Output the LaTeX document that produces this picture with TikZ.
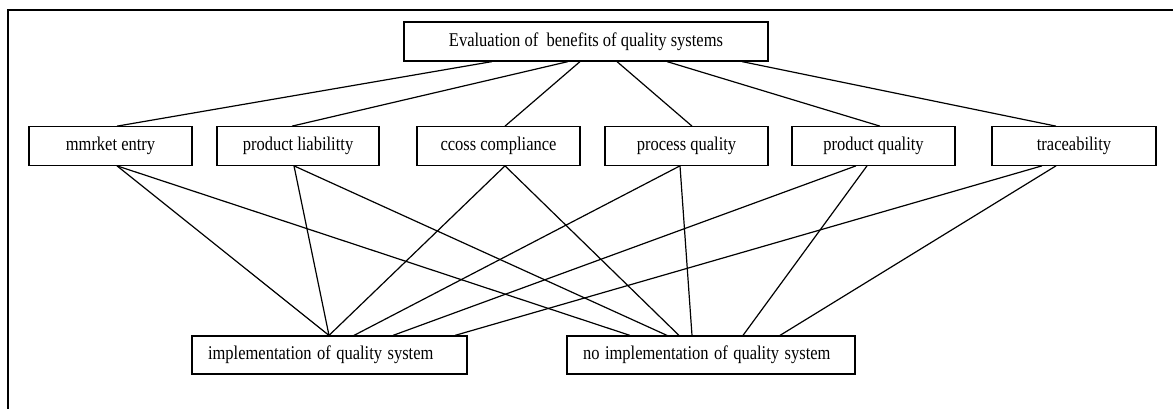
\documentclass[tikz,border=0pt]{standalone}
\usepackage{graphicx}
\usepackage{fontspec}
\setmainfont{Liberation Serif}
\usetikzlibrary{calc}
\newcommand{\stretchtxt}[1]{\scalebox{1}[1.18]{#1}}
\begin{document}
\begin{tikzpicture}[x=1pt,y=-1pt,
  box/.style={draw,line width=1.2pt,rectangle,inner sep=0pt,minimum height=38.5pt,font=\fontsize{16.5}{19}\selectfont},
  midbox/.style={box,minimum width=163pt},
  link/.style={line width=1.2pt}]
\useasboundingbox (0,0) rectangle (1173,409);
\clip (0,0) rectangle (1173,409);
\fill[white] (0,0) rectangle (1173,409);
\draw[line width=1.5pt] (8,10) rectangle (1190,430);
\node[box,minimum width=364pt,minimum height=39pt] (top) at (586,41.5) {\stretchtxt{Evaluation of~ benefits of quality systems}};
\node[midbox] (m1) at (110.5,146) {\stretchtxt{mmrket entry}};
\node[midbox,minimum width=162pt] (m2) at (298,146) {\stretchtxt{product liabilitty}};
\node[midbox] (m3) at (498.5,146) {\stretchtxt{ccoss compliance}};
\node[midbox] (m4) at (686.5,146) {\stretchtxt{process quality}};
\node[midbox] (m5) at (873.5,146) {\stretchtxt{product quality}};
\node[midbox,minimum width=164pt] (m6) at (1074,146) {\stretchtxt{traceability}};
\node[box,minimum width=275pt,minimum height=38pt,text width=243pt,align=left] (b1) at (329.5,355) {\stretchtxt{implementation of quality system}};
\node[box,minimum width=288pt,minimum height=38pt,text width=256pt,align=left] (b2) at (711,355) {\stretchtxt{no implementation of quality system}};
% top to middle
\draw[link] ($(top.south)+(-94,0)$) -- ($(m1.north)+(6.5,0)$);
\draw[link] ($(top.south)+(-18,0)$) -- ($(m2.north)+(-6,0)$);
\draw[link] ($(top.south)+(-6,0)$) -- ($(m3.north)+(6.5,0)$);
\draw[link] ($(top.south)+(31,0)$) -- ($(m4.north)+(5.5,0)$);
\draw[link] ($(top.south)+(81,0)$) -- ($(m5.north)+(6.5,0)$);
\draw[link] ($(top.south)+(156,0)$) -- ($(m6.north)+(-18,0)$);
% middle to bottom
\draw[link] ($(m1.south)+(6.5,0)$) -- ($(b1.north)+(-0.5,0)$);
\draw[link] ($(m1.south)+(6.5,0)$) -- ($(b2.north)+(-81,0)$);
\draw[link] ($(m2.south)+(-4,0)$) -- ($(b1.north)+(-0.5,0)$);
\draw[link] ($(m2.south)+(-4,0)$) -- ($(b2.north)+(-44,0)$);
\draw[link] ($(m3.south)+(6.5,0)$) -- ($(b1.north)+(-0.5,0)$);
\draw[link] ($(m3.south)+(6.5,0)$) -- ($(b2.north)+(-32,0)$);
\draw[link] ($(m4.south)+(-6.5,0)$) -- ($(b1.north)+(24.5,0)$);
\draw[link] ($(m4.south)+(-6.5,0)$) -- ($(b2.north)+(-19,0)$);
\draw[link] ($(m5.south)+(-17.5,0)$) -- ($(b1.north)+(63.5,0)$);
\draw[link] ($(m5.south)+(-6.5,0)$) -- ($(b2.north)+(32,0)$);
\draw[link] ($(m6.south)+(-32,0)$) -- ($(b1.north)+(125.5,0)$);
\draw[link] ($(m6.south)+(-18,0)$) -- ($(b2.north)+(69,0)$);
\end{tikzpicture}
\end{document}
